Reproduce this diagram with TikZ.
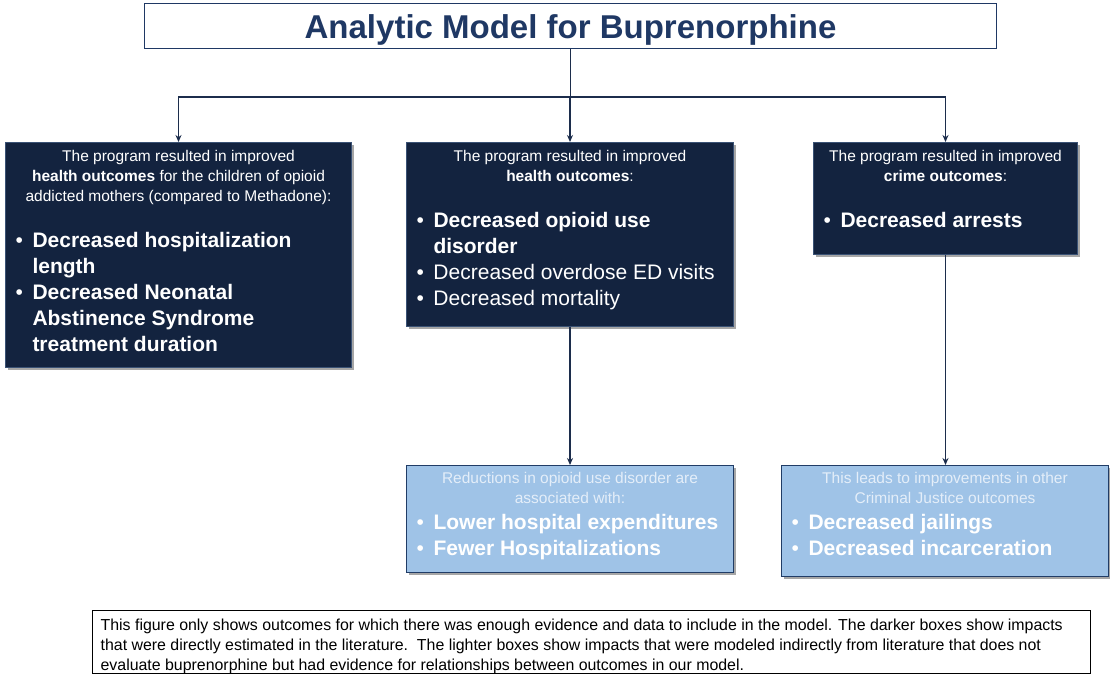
\documentclass[tikz,border=0pt]{standalone}
\usepackage{fontspec}
\setmainfont{Liberation Sans}
\usetikzlibrary{shadows,arrows.meta}
\definecolor{darkfill}{HTML}{13233F}
\definecolor{darkedge}{HTML}{3A5275}
\definecolor{lightfill}{HTML}{9FC3E7}
\definecolor{lightedge}{HTML}{203C66}
\definecolor{navy}{HTML}{1F3864}
\definecolor{linecol}{HTML}{1C2D4C}
\definecolor{paletext}{HTML}{E4EEF9}
\newcommand{\hdrfont}{\fontsize{15.5}{20}\selectfont}
\newcommand{\bulfont}{\fontsize{21}{26}\selectfont}
\newcommand{\bitem}[1]{\par\noindent\hangindent=27pt\hangafter=1\makebox[27pt][l]{\hspace{10pt}{\mdseries\textbullet}}{#1}\par}
\tikzset{
  boxbase/.style={anchor=north west, inner sep=0pt, line width=1pt,
    drop shadow={shadow xshift=2.5pt, shadow yshift=-2.5pt, opacity=0.35, fill=black}},
  darkbox/.style={boxbase, draw=darkedge, fill=darkfill, text=white},
  lightbox/.style={boxbase, draw=lightedge, fill=lightfill, text=white},
  titlebox/.style={anchor=north west, draw=navy, line width=1pt, minimum width=852pt,
    inner ysep=0pt, text height=35.5pt, text depth=9.5pt,
    text=navy, font=\fontsize{33}{38}\selectfont\bfseries},
  notebox/.style={anchor=north west, draw=black, line width=1.3pt, inner xsep=8pt, inner ysep=0pt},
  conn/.style={draw=linecol, line width=1.3pt},
  arr/.style={conn, -{Stealth[length=7pt,width=6pt]}}
}
\begin{document}
\begin{tikzpicture}[x=1pt,y=-1pt]
\useasboundingbox[fill=white] (0,0) rectangle (1110,676);

\node[titlebox] (title) at (144,3) {Analytic Model for Buprenorphine};

\node[darkbox] (leftbox) at (5,142) {\begin{minipage}[t][225pt][t]{346pt}
\vspace*{8pt}
{\centering\hdrfont The program resulted in improved\\
\textbf{health outcomes} for the children of opioid\\
addicted mothers (compared to Methadone):\par}
\vspace{20pt}
\raggedright\bulfont\bfseries
\bitem{Decreased hospitalization\newline length}
\bitem{Decreased Neonatal\newline Abstinence Syndrome\newline treatment duration}
\end{minipage}};

\node[darkbox] (midbox) at (406,142) {\begin{minipage}[t][184pt][t]{327pt}
\vspace*{8pt}
{\centering\hdrfont The program resulted in improved\\
\textbf{health outcomes}:\par}
\vspace{20pt}
\raggedright\bulfont
\bitem{\bfseries Decreased opioid use\newline disorder}
\bitem{Decreased overdose ED visits}
\bitem{Decreased mortality}
\end{minipage}};

\node[darkbox] (rightbox) at (813,142) {\begin{minipage}[t][112pt][t]{264pt}
\vspace*{8pt}
{\centering\hdrfont The program resulted in improved\\
\textbf{crime outcomes}:\par}
\vspace{20pt}
\raggedright\bulfont\bfseries
\bitem{Decreased arrests}
\end{minipage}};

\node[lightbox] (lightmid) at (406,465) {\begin{minipage}[t][107pt][t]{327pt}
\vspace*{6.5pt}
{\centering\hdrfont\color{paletext} Reductions in opioid use disorder are\\
associated with:\par}
\raggedright\bulfont\bfseries
\bitem{Lower hospital expenditures}
\bitem{Fewer Hospitalizations}
\end{minipage}};

\node[lightbox] (lightright) at (781,465) {\begin{minipage}[t][111pt][t]{327pt}
\vspace*{7pt}
{\centering\hdrfont\color{paletext} This leads to improvements in other\\
Criminal Justice outcomes\par}
\raggedright\bulfont\bfseries
\bitem{Decreased jailings}
\bitem{Decreased incarceration}
\end{minipage}};

\node[notebox] (note) at (92,610) {\begin{minipage}[t][63pt][t]{982pt}
\vspace*{8.5pt}
\raggedright\fontsize{15.9}{20}\selectfont
This figure only shows outcomes for which there was enough evidence and data to include in the model. The darker boxes show impacts\\
that were directly estimated in the literature.\ \ The lighter boxes show impacts that were modeled indirectly from literature that does not\\
evaluate buprenorphine but had evidence for relationships between outcomes in our model.
\end{minipage}};

\path (title.south) ++(0,48) coordinate (split);
\draw[conn] (title.south) -- (split);
\draw[arr] (split) -| (leftbox.north);
\draw[arr] (split) -| (midbox.north);
\draw[arr] (split) -| (rightbox.north);
\draw[arr] (midbox.south) -- (midbox.south |- lightmid.north);
\draw[arr] (rightbox.south) -- (rightbox.south |- lightright.north);
\end{tikzpicture}
\end{document}
